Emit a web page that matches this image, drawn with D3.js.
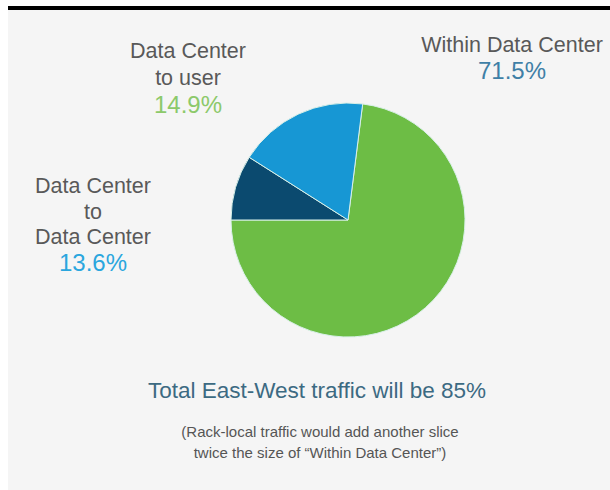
<!DOCTYPE html>
<html>
<head>
<meta charset="utf-8">
<script src="https://cdn.jsdelivr.net/npm/d3@7"></script>
<style>
  body { margin: 0; background: #fff; }
  svg { display: block; font-family: "Liberation Sans", Arial, sans-serif; }
</style>
</head>
<body>
<svg id="chart" width="610" height="490"></svg>
<script>
// slices as drawn (clockwise from just right of 12 o'clock)
var sliceNames = ["Within Data Center", "Data Center to Data Center", "Data Center to user"];
var sliceShares = [73, 9, 18];          // share of the circle as it appears
var sliceColors = ["#6dbd45", "#0b4a6f", "#1797d4"];
var startDeg = 7.2;

// labels printed on the slide
var labelLines = [
  ["Data Center", "to user"],
  ["Within Data Center"],
  ["Data Center", "to", "Data Center"]
];
var labelValues = ["14.9%", "71.5%", "13.6%"];
var valueColors = ["#8cc96a", "#3f7fa6", "#2aa6de"];

var svg = d3.select("#chart");

// background + top rule
svg.append("rect")
  .attr("x", 8).attr("y", 6)
  .attr("width", 602).attr("height", 484)
  .attr("fill", "#f5f5f5");
svg.append("rect")
  .attr("x", 8).attr("y", 6)
  .attr("width", 602).attr("height", 4)
  .attr("fill", "#000");

var cx = 348, cy = 220, r = 117;

var pie = d3.pie()
  .sort(null)
  .value(function(d) { return d; })
  .startAngle(startDeg * Math.PI / 180)
  .endAngle(startDeg * Math.PI / 180 + 2 * Math.PI);

var arc = d3.arc().innerRadius(0).outerRadius(r);

svg.append("g")
  .attr("transform", "translate(" + cx + "," + cy + ")")
  .selectAll("path")
  .data(pie(sliceShares))
  .enter().append("path")
  .attr("d", arc)
  .attr("fill", function(d, i) { return sliceColors[i]; })
  .attr("stroke", "#d8f0e8")
  .attr("stroke-width", 1);

// label blocks
var labelPos = [
  { x: 188, y: 58, lh: 27 },
  { x: 512, y: 52, lh: 26 },
  { x: 93, y: 193, lh: 25.7 }
];

labelLines.forEach(function(lines, i) {
  var g = svg.append("g")
    .attr("text-anchor", "middle")
    .attr("font-size", 21.5);
  lines.forEach(function(t, j) {
    g.append("text")
      .attr("x", labelPos[i].x)
      .attr("y", labelPos[i].y + j * labelPos[i].lh)
      .attr("fill", "#595959")
      .text(t);
  });
  g.append("text")
    .attr("x", labelPos[i].x)
    .attr("y", labelPos[i].y + lines.length * labelPos[i].lh + 1)
    .attr("font-size", 24)
    .attr("fill", valueColors[i])
    .text(labelValues[i]);
});

// bottom notes
svg.append("text")
  .attr("x", 317).attr("y", 398)
  .attr("text-anchor", "middle")
  .attr("font-size", 22.5)
  .attr("fill", "#3c6a82")
  .text("Total East-West traffic will be 85%");

var noteLines = [
  "(Rack-local traffic would add another slice",
  "twice the size of \u201cWithin Data Center\u201d)"
];
svg.append("g")
  .attr("text-anchor", "middle")
  .attr("font-size", 15)
  .attr("fill", "#555")
  .selectAll("text")
  .data(noteLines)
  .enter().append("text")
  .attr("x", 320)
  .attr("y", function(d, i) { return 437 + i * 21; })
  .text(function(d) { return d; });
</script>
</body>
</html>
